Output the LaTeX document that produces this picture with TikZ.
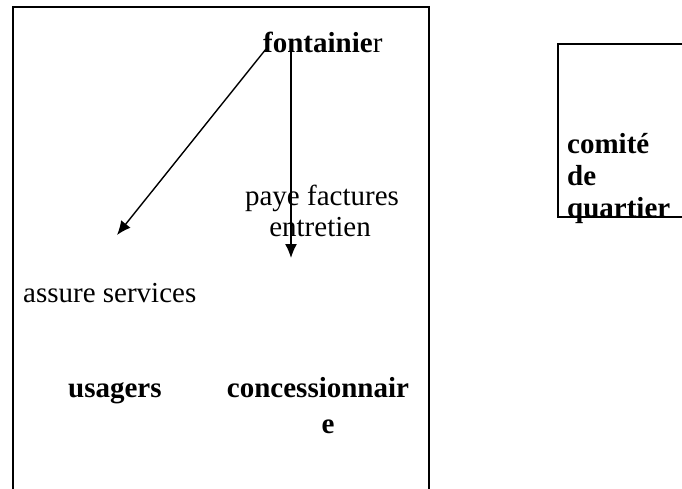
\documentclass[tikz,border=0pt]{standalone}
\usepackage{fontspec}
\setmainfont{Liberation Serif}
\usetikzlibrary{arrows.meta}

\tikzset{
  txt/.style={inner sep=0pt, font=\fontsize{29}{31}\selectfont},
  btxt/.style={txt, font=\fontsize{29}{31}\selectfont\bfseries},
  flow/.style={-{Latex[length=14pt,width=12pt]}, line width=1.4pt, black},
  frame/.style={line width=2pt, black}
}

\begin{document}
\begin{tikzpicture}[x=1pt, y=-1pt]
\useasboundingbox (0,0) rectangle (682,488);

\draw[frame] (13,496) |- (429,7) -- (429,496);
\draw[frame, line width=1.6pt] (690,44) -| (558,217) -- (690,217);

\node[btxt, anchor=base west] (fontainier) at (263,52) {fontainie\mdseries r};
\node[txt, anchor=base] (paye) at (322,205) {paye factures};
\node[txt, anchor=base] (entretien) at (320,236) {entretien};
\node[txt, anchor=base west] (assure) at (23,302) {assure services};
\node[btxt, anchor=base west] (usagers) at (68,397) {usagers};
\node[btxt, anchor=base] (concess) at (318,397) {concessionnair};
\node[btxt, anchor=base] (concesse) at (328,433) {e};
\node[btxt, anchor=base west] (comite) at (567,153) {comité};
\node[btxt, anchor=base west] (de) at (567,185) {de};
\node[btxt, anchor=base west] (quartier) at (567,217) {quartier};

\coordinate (srcA) at (266,49);
\coordinate (srcB) at (291,49);
\coordinate (toUsagers) at (117,235);
\coordinate (toConcess) at (291,258);

\draw[flow] (srcA) -- (toUsagers);
\draw[flow] (srcB) -- (toConcess);

\end{tikzpicture}
\end{document}
